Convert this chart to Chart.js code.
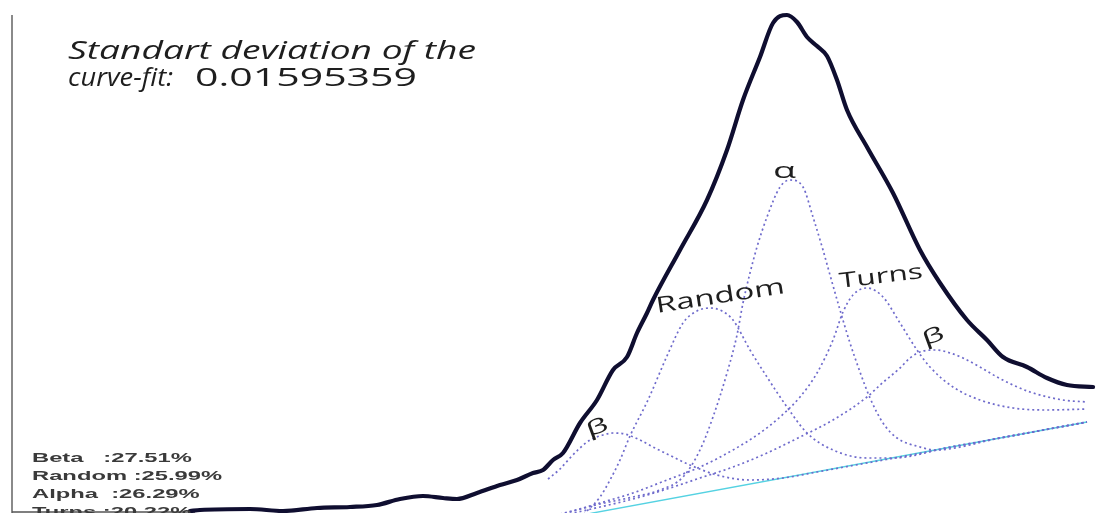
<!DOCTYPE html>
<html>
<head>
<meta charset="utf-8">
<script src="https://cdn.jsdelivr.net/npm/chart.js@4.4.1/dist/chart.umd.min.js"></script>
<style>
  html, body { margin: 0; padding: 0; background: #ffffff; overflow: hidden; }
  canvas { display: block; }
</style>
</head>
<body>
<canvas id="spectrum" width="1098" height="513"></canvas>
<script>
// Measured spectrum (channel vs. intensity)
const measuredX = [190, 200, 250, 283, 317, 350, 377, 400, 423, 443, 457, 477, 500, 517, 533, 543, 553, 563, 580, 597, 613, 627, 637, 647, 653, 680, 707, 727, 743, 760, 773, 787, 797, 807, 817, 827, 837, 847, 867, 893, 920, 940, 967, 987, 1003, 1027, 1047, 1067, 1093];
const measuredY = [2, 3, 4, 2, 5, 6, 8, 14, 17, 15, 14, 20, 28, 33, 40, 43, 53, 60, 90, 113, 143, 156, 180, 200, 213, 263, 313, 363, 413, 456, 490, 498, 491, 476, 467, 457, 433, 403, 366, 320, 263, 230, 193, 173, 156, 146, 135, 128, 126];

// Fitted components (each sits on the linear background)
const betaLowX  = [548, 560, 570, 580, 590, 603, 613, 625, 640, 653, 667, 690, 717, 750, 783, 817, 850, 900, 1000, 1087];
const betaLowY  = [34, 44, 55, 65, 73, 78, 80, 79, 73, 66, 59, 48, 38, 33, 35, 41, 47, 56, 75, 91];

const randomX   = [580, 587, 600, 610, 620, 630, 648, 667, 683, 697, 710, 722, 733, 750, 767, 787, 807, 833, 867, 893, 950, 1000, 1087];
const randomY   = [-5, 2, 16, 33, 53, 77, 113, 157, 190, 202, 205, 202, 193, 163, 136, 106, 80, 63, 55, 55, 66, 75, 91];

const alphaX    = [560, 600, 633, 660, 683, 700, 713, 727, 737, 743, 750, 757, 767, 780, 790, 803, 813, 823, 830, 840, 850, 860, 870, 883, 897, 920, 935, 1000, 1087];
const alphaY    = [-1, 9, 16, 23, 36, 63, 96, 140, 178, 210, 240, 266, 296, 326, 333, 326, 296, 263, 238, 203, 170, 141, 115, 90, 75, 66, 63, 75, 91];

const turnsX    = [560, 600, 633, 667, 700, 733, 760, 780, 800, 817, 833, 843, 853, 867, 883, 900, 917, 930, 953, 980, 1013, 1047, 1087];
const turnsY    = [-2, 10, 20, 33, 46, 63, 80, 96, 116, 140, 173, 201, 218, 225, 216, 190, 163, 146, 126, 113, 105, 103, 104];

const betaHighX = [560, 600, 633, 667, 700, 733, 767, 800, 833, 867, 880, 900, 910, 923, 937, 950, 963, 980, 997, 1013, 1030, 1063, 1087];
const betaHighY = [-3, 6, 14, 24, 35, 46, 60, 76, 93, 116, 128, 145, 155, 162, 163, 160, 155, 146, 136, 128, 121, 113, 111];

// Linear background under the fit
const backgroundX = [560, 593, 1087];
const backgroundY = [-6, 0, 91];

// Fit summary
const fitStdDev = '0.01595359';
const shareNames = ['Beta   ', 'Random ', 'Alpha  ', 'Turns '];
const sharePercent = [27.51, 25.99, 26.29, 20.22];

function points(xs, ys) {
  return xs.map((x, i) => ({ x: x, y: ys[i] }));
}

const dottedStyle = {
  borderColor: '#6f6bcc',
  borderWidth: 1.7,
  borderDash: [2, 3],
  pointRadius: 0,
  fill: false,
  cubicInterpolationMode: 'monotone'
};

// Draws a text run stretched to a given width, optionally tilted
function drawStretched(ctx, text, x, y, font, width, angle, color) {
  ctx.save();
  ctx.font = font;
  ctx.fillStyle = color;
  ctx.textBaseline = 'alphabetic';
  ctx.textAlign = 'left';
  const w = ctx.measureText(text).width;
  ctx.translate(x, y);
  ctx.rotate(angle);
  ctx.scale(width / w, 1);
  ctx.fillText(text, 0, 0);
  ctx.restore();
}

function drawScaled(ctx, text, x, y, font, sx, color) {
  ctx.save();
  ctx.font = font;
  ctx.fillStyle = color;
  ctx.textBaseline = 'alphabetic';
  ctx.translate(x, y);
  ctx.scale(sx, 1);
  ctx.fillText(text, 0, 0);
  ctx.restore();
}

const frameAndText = {
  id: 'frameAndText',
  beforeDatasetsDraw(chart) {
    const ctx = chart.ctx;
    const xs = chart.scales.x, ys = chart.scales.y;
    ctx.save();
    ctx.strokeStyle = '#8a8a8a';
    ctx.lineWidth = 2;
    ctx.beginPath();
    ctx.moveTo(xs.getPixelForValue(12), ys.getPixelForValue(498));
    ctx.lineTo(xs.getPixelForValue(12), ys.getPixelForValue(0));
    ctx.stroke();
    ctx.strokeStyle = '#555555';
    ctx.lineWidth = 1.5;
    ctx.beginPath();
    ctx.moveTo(xs.getPixelForValue(12), ys.getPixelForValue(1));
    ctx.lineTo(xs.getPixelForValue(195), ys.getPixelForValue(1));
    ctx.stroke();
    ctx.restore();
  },
  afterDraw(chart) {
    const ctx = chart.ctx;
    const ink = '#1e1e1e';
    // Fit quality note
    drawStretched(ctx, 'Standart deviation of the', 68, 59, 'italic 25px "Open Sans"', 408, 0, ink);
    drawStretched(ctx, 'curve-fit:', 68, 86, 'italic 25px "Open Sans"', 105, 0, ink);
    drawStretched(ctx, fitStdDev, 195, 86, '25px "Open Sans"', 222, 0, ink);

    // Component labels
    drawStretched(ctx, 'α', 773, 178, '21px "Open Sans"', 23, 0, ink);
    drawStretched(ctx, 'Random', 657, 313, '22px "Open Sans"', 130, -0.155, ink);
    drawStretched(ctx, 'Turns', 840, 288, '21px "Open Sans"', 84, -0.12, ink);
    drawStretched(ctx, 'β', 589, 437, '20px "Open Sans"', 22, -0.35, ink);
    drawStretched(ctx, 'β', 925, 346, '20px "Open Sans"', 22, -0.35, ink);

    // Component shares
    const baselines = [462, 480, 498, 516];
    shareNames.forEach((name, i) => {
      const txt = name + ':' + sharePercent[i].toFixed(2) + '%';
      drawScaled(ctx, txt, 32, baselines[i], 'bold 13.5px "Liberation Sans"', 1.76, '#3a3a3a');
    });
  }
};

new Chart(document.getElementById('spectrum'), {
  type: 'line',
  data: {
    datasets: [
      {
        label: 'Measured',
        data: points(measuredX, measuredY),
        borderColor: '#0f0e30',
        borderWidth: 4.2,
        borderJoinStyle: 'round',
        borderCapStyle: 'round',
        pointRadius: 0,
        fill: false,
        cubicInterpolationMode: 'monotone'
      },
      Object.assign({ label: 'Beta (low)', data: points(betaLowX, betaLowY) }, dottedStyle),
      Object.assign({ label: 'Random', data: points(randomX, randomY) }, dottedStyle),
      Object.assign({ label: 'Alpha', data: points(alphaX, alphaY) }, dottedStyle),
      Object.assign({ label: 'Turns', data: points(turnsX, turnsY) }, dottedStyle),
      Object.assign({ label: 'Beta (high)', data: points(betaHighX, betaHighY) }, dottedStyle),
      {
        label: 'Background',
        data: points(backgroundX, backgroundY),
        borderColor: '#55d2e2',
        borderWidth: 1.3,
        pointRadius: 0,
        fill: false,
        tension: 0
      }
    ]
  },
  options: {
    responsive: false,
    animation: false,
    devicePixelRatio: 1,
    layout: { padding: 0 },
    scales: {
      x: { type: 'linear', min: 0, max: 1098, display: false },
      y: { type: 'linear', min: 0, max: 513, display: false }
    },
    plugins: {
      legend: { display: false },
      tooltip: { enabled: false }
    }
  },
  plugins: [frameAndText]
});
</script>
</body>
</html>
